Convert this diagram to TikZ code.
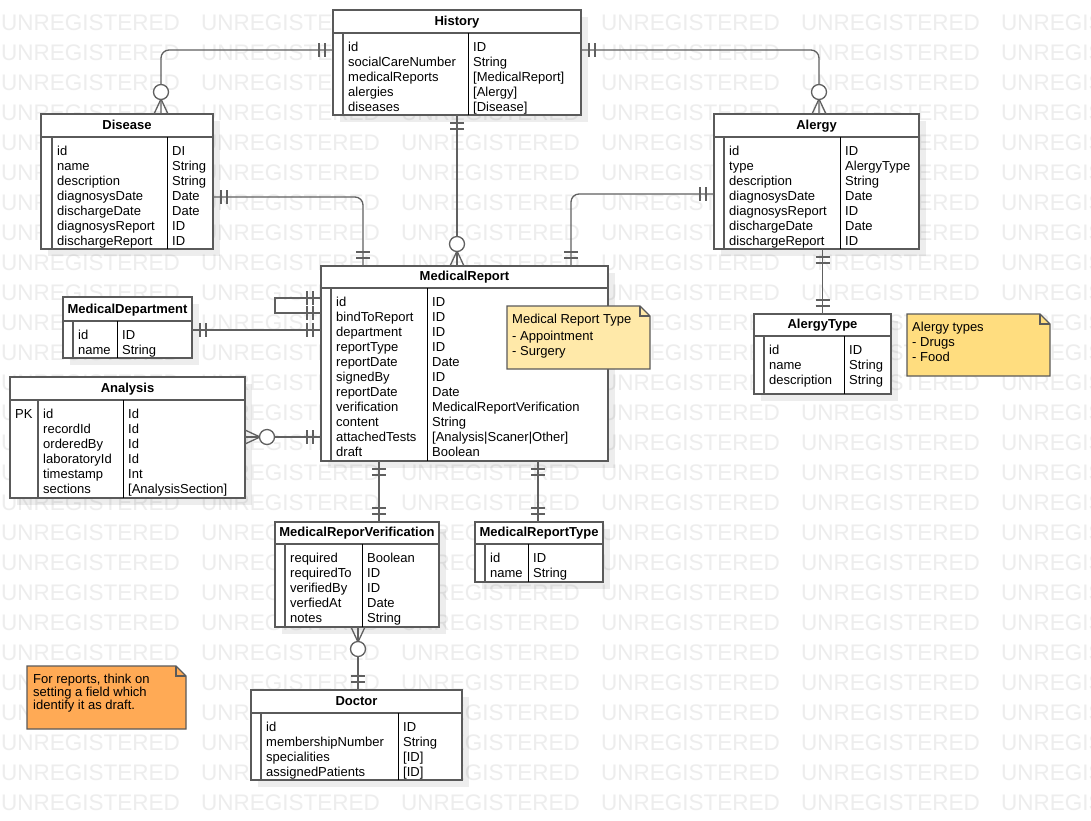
\documentclass[tikz,border=0pt]{standalone}
\usepackage{fontspec}
\setmainfont{Liberation Sans}
\usetikzlibrary{calc}
\definecolor{bordc}{HTML}{5A5A5A}
\definecolor{connc}{HTML}{606060}
\definecolor{wmc}{HTML}{EDEDED}
\definecolor{notea}{HTML}{FFE9A9}
\definecolor{noteb}{HTML}{FFDD7F}
\definecolor{notec}{HTML}{FFAA55}
\tikzset{
 ent/.style={draw=bordc, line width=1.6pt, fill=white, inner sep=0pt, outer sep=0pt, anchor=north west},
 hdrline/.style={draw=bordc, line width=1.4pt},
 barline/.style={draw=bordc, line width=1.3pt},
 colline/.style={draw=black, line width=0.9pt},
 ttl/.style={font=\fontsize{13}{15}\selectfont\bfseries, anchor=base, inner sep=0pt},
 coltxt/.style={font=\fontsize{13}{15}\selectfont, anchor=north west, align=left, inner sep=0pt},
 conn/.style={draw=connc, line width=1.3pt},
 ring/.style={draw=connc, line width=1.3pt, fill=white, circle, minimum size=15pt, inner sep=0pt},
 wm/.style={text=wmc, font=\fontsize{22.5}{23}\selectfont, anchor=base west, inner sep=0pt},
 notebox/.style={draw=bordc, line width=1.2pt},
 notetxt/.style={font=\fontsize{13}{15}\selectfont, anchor=north west, align=left, inner sep=0pt},
 shad/.style={fill=black, fill opacity=0.07},
}
% #1 name, #2 x1, #3 y1, #4 x2, #5 y2, #6 header line y, #7 title
\newcommand\entity[7]{%
 \fill[shad] (#2+7,#3+7) rectangle (#4+7,#5+7);
 \node[ent, minimum width={#4pt-#2pt}, minimum height={#5pt-#3pt}] (#1) at (#2,#3) {};
 \draw[hdrline] (#2,#6) -- (#4,#6);
 \node[ttl] (#1-title) at ({(#2+#4)/2},#6-7.5) {#7};
}
% #1 name, #2 header y, #3 bottom y, #4 bar x, #5 column x, #6 names, #7 types
\newcommand\fields[7]{%
 \draw[barline] (#4,#2) -- (#4,#3);
 \draw[colline] (#5,#2) -- (#5,#3);
 \node[coltxt] (#1-keys) at (#4+5,#2+7) {\rule{0pt}{11pt}#6};
 \node[coltxt] (#1-types) at (#5+5,#2+7) {\rule{0pt}{11pt}#7};
}
% #1 x1, #2 y1, #3 x2, #4 y2, #5 colour
\newcommand\notebg[5]{%
 \filldraw[notebox, fill=#5] (#1,#2) -- (#3-10,#2) -- (#3,#2+10) -- (#3,#4) -- (#1,#4) -- cycle;
 \draw[notebox] (#3-10,#2) -- (#3-10,#2+10) -- (#3,#2+10);
}
% tick across a horizontal line, x offset #2 from point #1
\newcommand\tickv[2]{\draw[conn] ($(#1)+(#2,-7)$) -- ($(#1)+(#2,7)$);}
% tick across a vertical line, y offset #2 from point #1
\newcommand\tickh[2]{\draw[conn] ($(#1)+(-7,#2)$) -- ($(#1)+(7,#2)$);}
\begin{document}
\begin{tikzpicture}[x=1pt,y=-1pt]
\fill[white] (0,0) rectangle (1091,820);
\useasboundingbox (0,0) rectangle (1091,820);
% watermark
\foreach \r in {1,...,27}{
 \foreach \c in {0,...,5}{
  \node[wm] (wm-\r-\c) at (200*\c+1,30*\r) {UNREGISTERED};
 }
}
% entities
\entity{hist}{333}{10}{581}{115}{33}{History}
\fields{hist}{33}{115}{343}{468}{id\\socialCareNumber\\medicalReports\\alergies\\diseases}{ID\\String\\{}[MedicalReport]\\{}[Alergy]\\{}[Disease]}

\entity{dis}{41}{114}{213}{249}{137}{Disease}
\fields{dis}{137}{249}{52}{167}{id\\name\\description\\diagnosysDate\\dischargeDate\\diagnosysReport\\dischargeReport}{DI\\String\\String\\Date\\Date\\ID\\ID}

\entity{alg}{714}{114}{919}{249}{137}{Alergy}
\fields{alg}{137}{249}{724}{840}{id\\type\\description\\diagnosysDate\\diagnosysReport\\dischargeDate\\dischargeReport}{ID\\AlergyType\\String\\Date\\ID\\Date\\ID}

\entity{mr}{321}{266}{608}{461}{288}{MedicalReport}
\fields{mr}{288}{461}{331}{427}{id\\bindToReport\\department\\reportType\\reportDate\\signedBy\\reportDate\\verification\\content\\attachedTests\\draft}{ID\\ID\\ID\\ID\\Date\\ID\\Date\\MedicalReportVerification\\String\\{}[Analysis|Scaner|Other]\\Boolean}

\entity{md}{63}{297}{192}{358}{321}{MedicalDepartment}
\fields{md}{321}{358}{73}{117}{id\\name}{ID\\String}

\entity{ana}{10}{377}{245}{498}{400}{Analysis}
\fields{ana}{400}{498}{38}{123}{id\\recordId\\orderedBy\\laboratoryId\\timestamp\\sections}{Id\\Id\\Id\\Id\\Int\\{}[AnalysisSection]}
\node[coltxt] (ana-pk) at (15,407) {\rule{0pt}{11pt}PK};

\entity{at}{754}{314}{891}{394}{336}{AlergyType}
\fields{at}{336}{394}{764}{844}{id\\name\\description}{ID\\String\\String}

\entity{mrv}{275}{522}{439}{627}{544}{MedicalReporVerification}
\fields{mrv}{544}{627}{285}{362}{required\\requiredTo\\verifiedBy\\verfiedAt\\notes}{Boolean\\ID\\ID\\Date\\String}

\entity{mrt}{475}{522}{603}{582}{544}{MedicalReportType}
\fields{mrt}{544}{582}{485}{528}{id\\name}{ID\\String}

\entity{doc}{251}{690}{462}{780}{713}{Doctor}
\fields{doc}{713}{780}{261}{398}{id\\membershipNumber\\specialities\\assignedPatients}{ID\\String\\{}[ID]\\{}[ID]}

% notes
\notebg{507}{306}{650}{369}{notea}
\node[notetxt] (note-mrtype) at (512,312) {\rule{0pt}{11pt}Medical Report Type\\[2pt]- Appointment\\- Surgery};
\notebg{907}{314}{1050}{376}{noteb}
\node[notetxt] (note-alergy) at (912,320) {\rule{0pt}{11pt}Alergy types\\- Drugs\\- Food};
\notebg{27}{666}{186}{729}{notec}
\node[notetxt, font=\fontsize{13}{13}\selectfont] (note-draft) at (33,672) {\rule{0pt}{11pt}For reports, think on\\setting a field which\\identify it as draft.};

% connection points
\coordinate (h-w) at ($(hist.north west)+(0,40)$);
\coordinate (h-e) at ($(hist.north east)+(0,40)$);
\coordinate (h-s) at (hist.south);
\coordinate (d-n) at ($(dis.north west)+(120,0)$);
\coordinate (d-e) at ($(dis.north east)+(0,83)$);
\coordinate (a-n) at ($(alg.north west)+(105,0)$);
\coordinate (a-w) at ($(alg.north west)+(0,80)$);
\coordinate (a-s) at (at.north |- alg.south);
\coordinate (t-a) at (at.north);
\coordinate (m-n1) at (hist.south |- mr.north);
\coordinate (m-n2) at ($(mr.north west)+(42,0)$);
\coordinate (m-n3) at ($(mr.north west)+(250,0)$);
\coordinate (m-w1) at ($(mr.north west)+(0,32)$);
\coordinate (m-w2) at ($(mr.north west)+(0,47)$);
\coordinate (m-w3) at ($(mr.north west)+(0,64)$);
\coordinate (m-w4) at ($(mr.north west)+(0,171)$);
\coordinate (m-s1) at ($(mr.south west)+(58,0)$);
\coordinate (m-s2) at ($(mr.south west)+(217,0)$);
\coordinate (md-e) at ($(md.north east)+(0,33)$);
\coordinate (an-e) at ($(ana.north east)+(0,60)$);
\coordinate (v-n) at (m-s1 |- mrv.north);
\coordinate (v-s) at ($(mrv.south west)+(83,0)$);
\coordinate (t-n) at (m-s2 |- mrt.north);
\coordinate (o-n) at (v-s |- doc.north);

% History -> Disease
\draw[conn, rounded corners=8pt] (h-w) -| (d-n);
\tickv{h-w}{-8}\tickv{h-w}{-14}
\draw[conn] ($(d-n)+(-7,0)$) -- ($(d-n)+(0,-15)$) -- ($(d-n)+(7,0)$);
\node[ring] (ring-dis) at ($(d-n)+(0,-22)$) {};
% History -> Alergy
\draw[conn, rounded corners=8pt] (h-e) -| (a-n);
\tickv{h-e}{8}\tickv{h-e}{14}
\draw[conn] ($(a-n)+(-7,0)$) -- ($(a-n)+(0,-15)$) -- ($(a-n)+(7,0)$);
\node[ring] (ring-alg) at ($(a-n)+(0,-22)$) {};
% History -> MedicalReport
\draw[conn] (h-s) -- (m-n1);
\tickh{h-s}{8}\tickh{h-s}{14}
\draw[conn] ($(m-n1)+(-7,0)$) -- ($(m-n1)+(0,-15)$) -- ($(m-n1)+(7,0)$);
\node[ring] (ring-mr) at ($(m-n1)+(0,-22)$) {};
% Disease -> MedicalReport
\draw[conn, rounded corners=8pt] (d-e) -| (m-n2);
\tickv{d-e}{8}\tickv{d-e}{14}
\tickh{m-n2}{-8}\tickh{m-n2}{-14}
% Alergy -> MedicalReport
\draw[conn, rounded corners=8pt] (a-w) -| (m-n3);
\tickv{a-w}{-8}\tickv{a-w}{-14}
\tickh{m-n3}{-8}\tickh{m-n3}{-14}
% Alergy -> AlergyType
\draw[conn] (a-s) -- (t-a);
\tickh{a-s}{8}\tickh{a-s}{14}
\tickh{t-a}{-8}\tickh{t-a}{-14}
% MedicalReport self loop
\draw[conn] (m-w1) -- ++(-46,0) |- (m-w2);
\tickv{m-w1}{-8}\tickv{m-w1}{-14}
\tickv{m-w2}{-8}\tickv{m-w2}{-14}
% MedicalDepartment -> MedicalReport
\draw[conn] (md-e) -- (m-w3);
\tickv{md-e}{8}\tickv{md-e}{14}
\tickv{m-w3}{-8}\tickv{m-w3}{-14}
% Analysis -> MedicalReport
\draw[conn] (an-e) -- (m-w4);
\draw[conn] ($(an-e)+(0,-7)$) -- ($(an-e)+(15,0)$) -- ($(an-e)+(0,7)$);
\node[ring] (ring-ana) at ($(an-e)+(22,0)$) {};
\tickv{m-w4}{-8}\tickv{m-w4}{-14}
% MedicalReport -> Verification
\draw[conn] (m-s1) -- (v-n);
\tickh{m-s1}{8}\tickh{m-s1}{14}
\tickh{v-n}{-8}\tickh{v-n}{-14}
% MedicalReport -> MedicalReportType
\draw[conn] (m-s2) -- (t-n);
\tickh{m-s2}{8}\tickh{m-s2}{14}
\tickh{t-n}{-8}\tickh{t-n}{-14}
% Verification -> Doctor
\draw[conn] (v-s) -- (o-n);
\draw[conn] ($(v-s)+(-7,0)$) -- ($(v-s)+(0,15)$) -- ($(v-s)+(7,0)$);
\node[ring] (ring-doc) at ($(v-s)+(0,22)$) {};
\tickh{o-n}{-8}\tickh{o-n}{-14}
\end{tikzpicture}
\end{document}
